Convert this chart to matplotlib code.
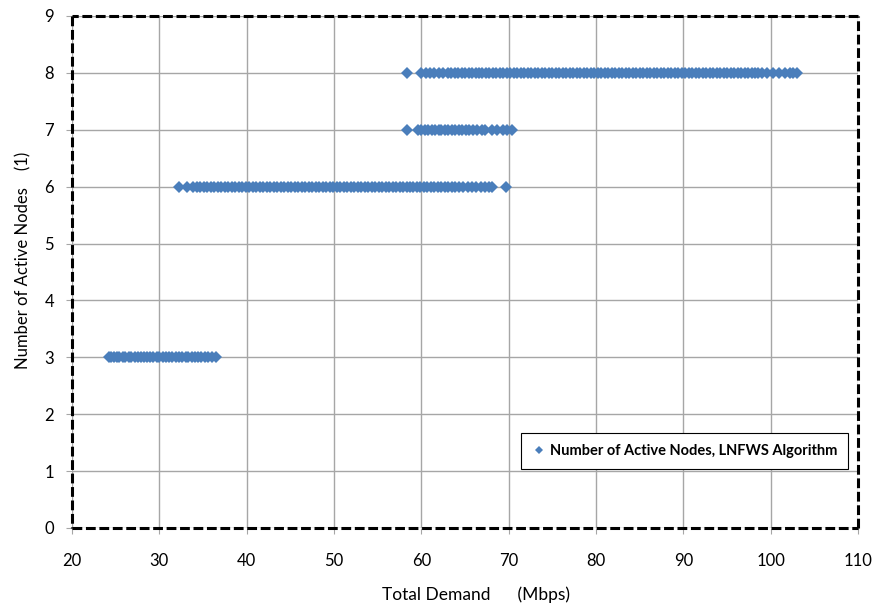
import matplotlib.pyplot as plt

plt.rcParams['font.family'] = ['Lato', 'DejaVu Sans']

# total demand (Mbps) at which each active-node count was observed
demand_3 = [24.2, 24.5, 24.8, 25.1, 25.4, 25.8, 26.1, 26.5, 26.8, 27.2, 27.5, 27.9,
            28.2, 28.6, 28.9, 29.3, 29.7, 30.0, 30.4, 30.8, 31.1, 31.5, 31.9, 32.2,
            32.6, 33.0, 33.3, 33.7, 34.1, 34.4, 34.8, 35.2, 35.6, 36.0, 36.5]
demand_6 = [32.3, 33.2, 33.9, 34.3, 34.7, 35.1, 35.5, 35.9, 36.3, 36.7, 37.1, 37.5,
            37.9, 38.3, 38.7, 39.1, 39.5, 39.9, 40.3, 40.7, 41.1, 41.5, 41.9, 42.3,
            42.7, 43.1, 43.5, 43.9, 44.3, 44.7, 45.1, 45.5, 45.9, 46.3, 46.7, 47.1,
            47.5, 47.9, 48.3, 48.7, 49.1, 49.5, 49.9, 50.3, 50.7, 51.1, 51.5, 51.9,
            52.3, 52.7, 53.1, 53.5, 53.9, 54.3, 54.7, 55.1, 55.5, 55.9, 56.3, 56.7,
            57.1, 57.5, 57.9, 58.3, 58.7, 59.1, 59.5, 59.9, 60.3, 60.7, 61.1, 61.5,
            61.9, 62.3, 62.7, 63.1, 63.5, 63.9, 64.3, 64.8, 65.3, 65.8, 66.3, 66.8,
            67.3, 67.7, 68.1, 69.7]
demand_7 = [58.4, 59.6, 60.0, 60.4, 60.8, 61.2, 61.6, 62.0, 62.3, 62.7, 63.1, 63.5,
            63.9, 64.3, 64.7, 65.1, 65.5, 65.9, 66.4, 66.9, 67.3, 68.1, 68.7, 69.4,
            69.8, 70.4]
demand_8 = [58.4, 60.0, 60.5, 61.0, 61.5, 62.0, 62.5, 63.0, 63.4, 63.8, 64.2, 64.6,
            65.0, 65.4, 65.8, 66.2, 66.6, 67.0, 67.4, 67.8, 68.2, 68.6, 69.0, 69.4,
            69.8, 70.2, 70.6, 71.0, 71.4, 71.8, 72.2, 72.6, 73.0, 73.4, 73.8, 74.2,
            74.6, 75.0, 75.4, 75.8, 76.2, 76.6, 77.0, 77.4, 77.8, 78.2, 78.6, 79.0,
            79.4, 79.8, 80.2, 80.6, 81.0, 81.4, 81.8, 82.2, 82.6, 83.0, 83.4, 83.8,
            84.2, 84.6, 85.0, 85.4, 85.8, 86.2, 86.6, 87.0, 87.4, 87.8, 88.2, 88.6,
            89.0, 89.4, 89.8, 90.2, 90.6, 91.0, 91.4, 91.8, 92.2, 92.6, 93.0, 93.4,
            93.8, 94.2, 94.6, 95.0, 95.4, 95.8, 96.2, 96.6, 97.0, 97.4, 97.8, 98.2,
            98.6, 99.0, 99.6, 100.3, 101.0, 101.6, 102.2, 102.6, 103.0]
node_counts = [3, 6, 7, 8]

x_ticks = list(range(20, 111, 10))
y_ticks = list(range(0, 10))

xs = demand_3 + demand_6 + demand_7 + demand_8
ys = ([node_counts[0]] * len(demand_3) + [node_counts[1]] * len(demand_6)
      + [node_counts[2]] * len(demand_7) + [node_counts[3]] * len(demand_8))

fig = plt.figure(figsize=(8.77, 6.08), dpi=100)
ax = fig.add_axes([0.0821, 0.1316, 0.8963, 0.8421])

ax.plot(xs, ys, linestyle='none', marker='D', markersize=6.6, color='#4a7ebb',
        markeredgewidth=0, label='Number of Active Nodes, LNFWS Algorithm')

ax.set_xlim(20, 110)
ax.set_ylim(0, 9)
ax.set_xticks(x_ticks)
ax.set_yticks(y_ticks)
ax.grid(True, color='#a6a6a6', linewidth=1)
ax.set_axisbelow(True)
ax.tick_params(axis='both', labelsize=12, color='#a6a6a6', length=4)
ax.tick_params(axis='x', pad=14)
ax.tick_params(axis='y', pad=9)

# dashed plot-area border, drawn as lines so the dash pattern shows
for side in ax.spines.values():
    side.set_visible(False)
corners_x = [0, 1, 1, 0, 0]
corners_y = [0, 0, 1, 1, 0]
for i in range(4):
    ax.plot(corners_x[i:i + 2], corners_y[i:i + 2], transform=ax.transAxes,
            color='black', linewidth=2.2, linestyle=(0, (3.2, 1.2)),
            dash_capstyle='butt', clip_on=False, zorder=5)

fig.text(0.543, 0.0214, 'Total Demand      (Mbps)', fontsize=12.5,
         ha='center', va='center')
fig.text(0.0262, 0.572, 'Number of Active Nodes    (1)', fontsize=12,
         ha='center', va='center', rotation=90)

leg = ax.legend(loc='lower right', bbox_to_anchor=(0.987, 0.115), fancybox=False,
                framealpha=1, edgecolor='black', handletextpad=0.2,
                markerscale=0.6, prop={'weight': 'bold', 'size': 10.5},
                borderpad=0.75, handlelength=1, borderaxespad=0)
leg.get_frame().set_linewidth(0.8)

fig.savefig('out.png', dpi=100)
